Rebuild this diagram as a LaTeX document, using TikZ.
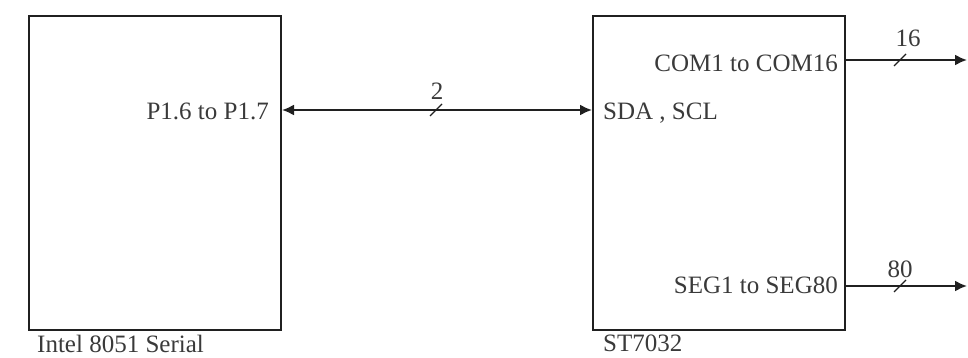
\documentclass[tikz,border=0pt]{standalone}
\usepackage{fontspec}
\setmainfont{Liberation Serif}
\usetikzlibrary{arrows.meta}
\definecolor{ink}{HTML}{202020}
\definecolor{txt}{HTML}{3A3A3A}
\begin{document}
\begin{tikzpicture}[x=1pt,y=-1pt,
  chip/.style={draw=ink,line width=2pt,minimum width=252pt,minimum height=314pt,inner sep=0pt,anchor=north west},
  lbl/.style={inner sep=0pt,text=txt,font=\fontsize{25}{28}\selectfont},
  wire/.style={draw=ink,line width=2pt},
  tip/.style={-{Latex[length=12pt,width=11pt]}},
  busslash/.style={draw=ink,line width=1.3pt}]
\useasboundingbox (0,0) rectangle (968,358);
% boxes
\node[chip] (mcu) at (28,15) {};
\node[chip] (lcd) at (592,15) {};
% port coordinates
\coordinate (mcuP) at (mcu.east |- 0,110);
\coordinate (lcdS) at (lcd.west |- 0,110);
\coordinate (lcdC) at (lcd.east |- 0,60);
\coordinate (lcdG) at (lcd.east |- 0,286);
\coordinate (outC) at (967,60);
\coordinate (outG) at (967,286);
% labels inside boxes
\node[lbl,anchor=base east] (tP) at (269,120) {P1.6 to P1.7};
\node[lbl,anchor=base west] (tS) at (603,120) {SDA , SCL};
\node[lbl,anchor=base east] (tC) at (838,72) {COM1 to COM16};
\node[lbl,anchor=base east] (tG) at (838,293) {SEG1 to SEG80};
% captions
\node[lbl,anchor=base west] (capM) at (37,352) {Intel 8051 Serial};
\node[lbl,anchor=base west] (capL) at (603,351) {ST7032};
% connectors
\draw[wire,{Latex[length=12pt,width=11pt]}-{Latex[length=12pt,width=11pt]}] (mcuP) -- (lcdS);
\draw[wire,tip] (lcdC) -- (outC);
\draw[wire,tip] (lcdG) -- (outG);
% bus width marks
\coordinate (s1) at (436,110);
\coordinate (s2) at (900,60);
\coordinate (s3) at (900,286);
\draw[busslash] ([shift={(-6,6)}]s1) -- ([shift={(6,-6)}]s1);
\draw[busslash] ([shift={(-6,6)}]s2) -- ([shift={(6,-6)}]s2);
\draw[busslash] ([shift={(-6,6)}]s3) -- ([shift={(6,-6)}]s3);
\node[lbl,anchor=base] (n2) at (437,100) {2};
\node[lbl,anchor=base] (n16) at (908,47) {16};
\node[lbl,anchor=base] (n80) at (900,277) {80};
\end{tikzpicture}
\end{document}
